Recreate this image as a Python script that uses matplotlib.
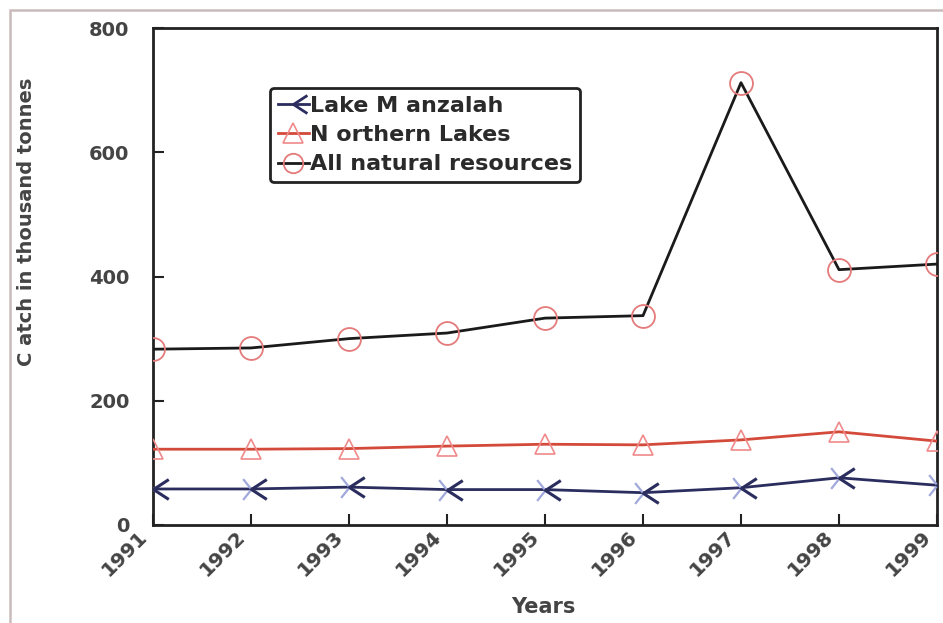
import matplotlib
matplotlib.use("Agg")
import matplotlib.pyplot as plt
from matplotlib.path import Path
from matplotlib.patches import Rectangle
from matplotlib.lines import Line2D
from matplotlib.transforms import ScaledTranslation

years = [1991, 1992, 1993, 1994, 1995, 1996, 1997, 1998, 1999]
year_labels = ["1991", "1992", "1993", "1994", "1995", "1996", "1997", "1998", "1999"]
manzalah = [58, 58, 61, 57, 57, 52, 60, 76, 64]
northern = [122, 122, 123, 127, 130, 129, 137, 150, 135]
all_natural = [283, 285, 300, 309, 333, 337, 712, 411, 420]
y_ticks = [0, 200, 400, 600, 800]

plt.rcParams['font.family'] = ['DejaVu Sans']
TXT = '#444444'

fig = plt.figure(figsize=(9.43, 6.23), dpi=100)
fig.patches.append(Rectangle((10/943, -0.05), 1.0, 1 - 10/623 + 0.05,
                             transform=fig.transFigure, fill=False,
                             edgecolor='#cbbcbc', linewidth=1.8))
ax = fig.add_axes([153/943, 1 - 525/623, (937 - 153)/943, (525 - 28)/623])

lt_path = Path([(1.0, 0.65), (0.0, 0.0), (1.0, -0.65)],
               [Path.MOVETO, Path.LINETO, Path.LINETO])
left_path = Path([(-0.6, 0.75), (0.0, 0.0), (-0.6, -0.75)],
                 [Path.MOVETO, Path.LINETO, Path.LINETO])

ax.plot(years, all_natural, color='#1a1a1a', lw=2.0, zorder=3)
ax.plot(years, all_natural, ls='none', marker='o', ms=16.5, mfc='none',
        mec='#e47a7a', mew=1.3, zorder=4)

ax.plot(years, northern, color='#d44a3a', lw=2.0, zorder=3)
ax.plot(years, northern, ls='none', marker='^', ms=15, mfc='none',
        mec='#f08a8a', mew=1.2, zorder=4)

ax.plot(years, manzalah, color='#2a2d5e', lw=2.0, zorder=3)
ax.plot(years, manzalah, ls='none', marker=left_path, ms=15, mfc='none',
        mec='#a0a8dc', mew=1.6, zorder=4)
ax.plot(years, manzalah, ls='none', marker=lt_path, ms=22, mfc='none',
        mec='#2a2d5e', mew=2.2, zorder=5)

ax.set_xlim(1991, 1999)
ax.set_ylim(0, 800)
ax.set_yticks(y_ticks)
ax.set_yticklabels([str(v) for v in y_ticks], fontsize=14, color=TXT,
                   fontweight='bold')
ax.set_xticks(years)
ax.set_xticklabels(year_labels, rotation=45, ha='right', va='center',
                   fontsize=14.5, color=TXT, fontweight='bold',
                   rotation_mode='anchor')
ax.tick_params(direction='in', length=8, width=1.5, colors='#222222',
               labelcolor=TXT)
ax.tick_params(axis='x', pad=6)
ax.tick_params(axis='y', pad=17)
offset = ScaledTranslation(-9/100, 0, fig.dpi_scale_trans)
for lab in ax.get_xticklabels():
    lab.set_transform(lab.get_transform() + offset)
for s in ax.spines.values():
    s.set_linewidth(2.0)
    s.set_color('#222222')

fig.text(27/943, 1 - 222/623, 'C atch in thousand tonnes', rotation=90,
         ha='center', va='center', fontsize=14, color=TXT, fontweight='bold')
fig.text(543/943, 1 - 607/623, 'Years', ha='center', va='center',
         fontsize=15, color=TXT, fontweight='bold')

h1 = Line2D([], [], color='#2a2d5e', lw=2, marker=lt_path, ms=20, mfc='none',
            mec='#2a2d5e', mew=2)
h2 = Line2D([], [], color='#d44a3a', lw=2, marker='^', ms=14, mfc='none',
            mec='#f08a8a', mew=1.2)
h3 = Line2D([], [], color='#1a1a1a', lw=2, marker='o', ms=14, mfc='none',
            mec='#e47a7a', mew=1.3)
leg = ax.legend([h1, h2, h3],
                ['Lake M anzalah', 'N orthern Lakes', 'All natural resources'],
                loc='upper left',
                bbox_to_anchor=((270 - 153)/784, 1 - (88 - 28)/497),
                prop={'size': 16, 'weight': 'bold'}, frameon=True,
                fancybox=True, handlelength=1.4, handletextpad=0.05,
                borderpad=0.35, labelspacing=0.42, borderaxespad=0,
                edgecolor='#222222', framealpha=1)
leg.get_frame().set_linewidth(2.0)
for t in leg.get_texts():
    t.set_color('#2a2a2a')

fig.savefig('out.png', dpi=100, facecolor='white')
